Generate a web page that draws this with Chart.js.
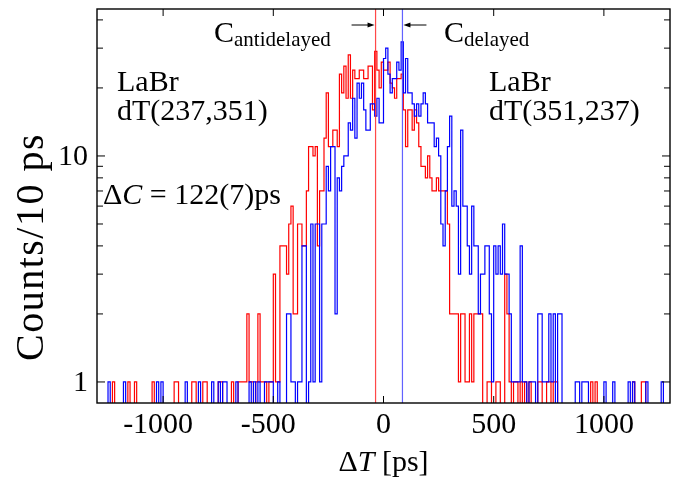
<!DOCTYPE html>
<html>
<head>
<meta charset="utf-8">
<script src="https://cdn.jsdelivr.net/npm/chart.js@4.4.0/dist/chart.umd.min.js"></script>
<style>
  html, body { margin: 0; padding: 0; background: #fff; }
</style>
</head>
<body>
<canvas id="timing" width="691" height="479"></canvas>
<script>
// Time-difference spectra, 10 ps bins from -1300 ps to +1300 ps
const BIN_START = -1300;
const BIN_WIDTH = 10;

// LaBr dT(237,351): counts per bin (20 bins per row)
const antidelayedCounts = [
  0,0,0,0,0,0,0,1,0,0, 0,0,0,0,1,0,0,1,0,0,
  0,0,0,0,0,1,0,0,0,0, 0,0,0,0,0,1,1,0,0,0,
  0,0,0,1,1,0,0,0,1,1, 0,0,0,0,0,1,1,0,0,0,
  0,1,0,0,1,1,1,1,2,1, 1,0,1,2,1,1,1,0,1,1,
  3,1,1,4,4,4,3,5,6,2, 2,5,5,4,4,7,11,11,10,11,
  4,7,7,12,19,11,11,13,13,11, 23,19,25,18,28,18,24,22,22,24,
  24,22,22,25,25,16,29,24,20,26, 24,24,26,21,20,18,22,22,23,16,
  11,16,16,13,16,14,11,9,9,8, 10,8,7,7,8,7,7,7,7,5,
  2,2,2,2,1,2,2,1,1,2, 1,2,2,2,2,0,0,1,1,0,
  0,1,1,0,0,3,2,1,0,1, 1,0,1,0,1,0,1,0,0,0,
  1,1,0,0,1,1,0,1,1,0, 0,0,0,0,0,0,0,0,0,0,
  0,0,0,0,1,0,1,0,0,0, 0,0,0,0,0,0,0,0,0,0,
  0,0,0,1,0,0,0,1,1,0, 0,0,0,0,0,0,0,0,0,0
];

// LaBr dT(351,237): counts per bin
const delayedCounts = [
  0,0,0,0,0,1,0,0,0,0, 0,0,1,0,0,0,0,0,0,0,
  0,0,0,0,0,0,0,1,0,1, 0,0,0,0,0,0,0,0,0,0,
  1,0,0,0,0,0,1,0,0,0, 0,0,1,0,0,1,0,1,1,0,
  0,0,0,1,0,0,0,0,0,1, 0,1,0,1,0,0,1,1,1,1,
  0,0,1,0,0,0,2,2,1,1, 0,1,1,4,4,0,1,5,1,5,
  5,1,5,5,9,7,11,11,2,8, 7,9,10,10,14,13,18,12,21,18,
  21,16,13,13,17,17,15,18,14,14, 27,30,23,19,22,22,26,24,32,19,
  27,19,19,17,15,17,15,17,19,17, 14,14,14,11,12,10,5,4,7,11,
  15,6,7,6,3,13,6,6,4,3, 6,4,4,2,3,3,4,4,2,1,
  4,3,4,3,5,3,3,2,1,1, 1,1,4,1,1,0,1,1,1,0,
  2,2,1,1,1,2,1,2,0,2, 2,0,0,0,0,0,0,1,1,0,
  1,1,1,0,0,0,0,0,0,0, 1,0,0,0,1,0,0,0,0,0,
  0,1,0,1,0,0,0,0,0,1, 0,0,0,0,0,0,1,0,0,0
];

// centroids of the two distributions (ps)
const centroidAnti = -36;
const centroidDel = 86;

const xTickValues = [-1000, -500, 0, 500, 1000];
const yTickValues = [1, 2, 3, 4, 5, 6, 7, 8, 9, 10, 20, 30, 40];
const yTickLabelled = [1, 10];

// empty bins sit below the log axis so the steps fall off the frame
const EMPTY_LEVEL = 0.5;

function toPoints(counts) {
  return counts.map((c, i) => ({
    x: BIN_START + BIN_WIDTH * (i + 0.5),
    y: c > 0 ? c : EMPTY_LEVEL
  }));
}

const SERIF = '"Liberation Serif", "Times New Roman", serif';

// draw a run of text pieces with different fonts starting at x
function drawRuns(ctx, x, y, runs) {
  let cx = x;
  runs.forEach(r => {
    ctx.font = r.font;
    ctx.fillText(r.text, cx, y + (r.dy || 0));
    cx += ctx.measureText(r.text).width;
  });
  return cx;
}

function runsWidth(ctx, runs) {
  let w = 0;
  runs.forEach(r => { ctx.font = r.font; w += ctx.measureText(r.text).width; });
  return w;
}

function arrow(ctx, x0, x1, y) {
  const dir = Math.sign(x1 - x0);
  ctx.beginPath();
  ctx.moveTo(x0, y);
  ctx.lineTo(x1 - dir * 5, y);
  ctx.stroke();
  ctx.beginPath();
  ctx.moveTo(x1, y);
  ctx.lineTo(x1 - dir * 7, y - 2.5);
  ctx.lineTo(x1 - dir * 7, y + 2.5);
  ctx.closePath();
  ctx.fill();
}

const framePlugin = {
  id: 'framePlugin',
  afterDatasetsDraw(chart) {
    const { ctx, chartArea: a, scales: { x, y } } = chart;
    ctx.save();

    // centroid markers
    ctx.lineWidth = 1.2;
    ctx.strokeStyle = 'rgba(255,40,40,0.85)';
    let px = x.getPixelForValue(centroidAnti);
    ctx.beginPath(); ctx.moveTo(px, a.top); ctx.lineTo(px, a.bottom); ctx.stroke();
    ctx.strokeStyle = 'rgba(70,70,255,0.85)';
    px = x.getPixelForValue(centroidDel);
    ctx.beginPath(); ctx.moveTo(px, a.top); ctx.lineTo(px, a.bottom); ctx.stroke();

    // frame
    ctx.strokeStyle = '#000';
    ctx.fillStyle = '#000';
    ctx.lineWidth = 1.4;
    ctx.strokeRect(a.left, a.top, a.right - a.left, a.bottom - a.top);

    // inward ticks on all four sides
    ctx.lineWidth = 1;
    ctx.beginPath();
    xTickValues.forEach(v => {
      const tx = x.getPixelForValue(v);
      ctx.moveTo(tx, a.bottom); ctx.lineTo(tx, a.bottom - 7);
      ctx.moveTo(tx, a.top); ctx.lineTo(tx, a.top + 7);
    });
    yTickValues.forEach(v => {
      const ty = y.getPixelForValue(v);
      const len = yTickLabelled.includes(v) ? 8 : 6;
      ctx.moveTo(a.left, ty); ctx.lineTo(a.left + len, ty);
      ctx.moveTo(a.right, ty); ctx.lineTo(a.right - len, ty);
    });
    ctx.stroke();

    // tick labels
    ctx.font = '30px ' + SERIF;
    ctx.textBaseline = 'alphabetic';
    ctx.textAlign = 'left';
    xTickValues.forEach(v => {
      const digits = String(Math.abs(v));
      const w = ctx.measureText(digits).width;
      const tx = x.getPixelForValue(v) - w / 2;
      ctx.fillText(digits, tx, 433);
      if (v < 0) {
        const mw = ctx.measureText('-').width;
        ctx.fillText('-', tx - mw, 433);
      }
    });
    ctx.textAlign = 'right';
    ctx.textBaseline = 'middle';
    yTickLabelled.forEach(v => {
      ctx.fillText(String(v), a.left - 9, y.getPixelForValue(v) + 1);
    });

    // axis titles
    ctx.textAlign = 'left';
    ctx.textBaseline = 'alphabetic';
    const f30 = '30px ' + SERIF;
    const i30 = 'italic 30px ' + SERIF;
    const xTitle = [
      { text: '\u0394', font: f30 },
      { text: 'T', font: i30 },
      { text: ' [ps]', font: f30 }
    ];
    drawRuns(ctx, x.getPixelForValue(0) - runsWidth(ctx, xTitle) / 2, 471, xTitle);

    ctx.save();
    ctx.translate(43, 247);
    ctx.rotate(-Math.PI / 2);
    ctx.font = '40px ' + SERIF;
    ctx.letterSpacing = '1.5px';
    ctx.textAlign = 'center';
    ctx.fillText('Counts/10 ps', 0, 0);
    ctx.restore();

    // centroid labels and arrows
    const f21 = '21px ' + SERIF;
    const xa = x.getPixelForValue(centroidAnti);
    const xd = x.getPixelForValue(centroidDel);
    drawRuns(ctx, 214, 42, [
      { text: 'C', font: f30 },
      { text: 'antidelayed', font: f21, dy: 4 }
    ]);
    drawRuns(ctx, 444, 42, [
      { text: 'C', font: f30 },
      { text: 'delayed', font: f21, dy: 4 }
    ]);
    ctx.lineWidth = 1;
    arrow(ctx, xa - 24, xa - 1, 25);
    arrow(ctx, xd + 24, xd + 1, 25);

    // detector / gate labels
    ctx.font = f30;
    ctx.fillText('LaBr', 117, 91);
    ctx.fillText('dT(237,351)', 117, 120);
    ctx.fillText('LaBr', 489, 91);
    ctx.fillText('dT(351,237)', 489, 120);
    drawRuns(ctx, 103, 204, [
      { text: '\u0394', font: f30 },
      { text: 'C', font: i30 },
      { text: ' = 122(7)ps', font: f30 }
    ]);

    ctx.restore();
  }
};

new Chart(document.getElementById('timing'), {
  type: 'line',
  data: {
    datasets: [
      {
        label: 'dT(237,351)',
        data: toPoints(antidelayedCounts),
        borderColor: '#ff0000',
        borderWidth: 1.2,
        stepped: 'middle',
        pointRadius: 0,
        fill: false,
        order: 2
      },
      {
        label: 'dT(351,237)',
        data: toPoints(delayedCounts),
        borderColor: '#0000ff',
        borderWidth: 1.2,
        stepped: 'middle',
        pointRadius: 0,
        fill: false,
        order: 1
      }
    ]
  },
  options: {
    responsive: false,
    devicePixelRatio: 1,
    animation: false,
    layout: { padding: { top: 9, right: 21, left: 0, bottom: 0 } },
    plugins: { legend: { display: false }, tooltip: { enabled: false } },
    scales: {
      x: {
        type: 'linear',
        min: -1300,
        max: 1300,
        grid: { display: false },
        border: { display: false },
        ticks: { display: false },
        afterFit: s => { s.height = 76; }
      },
      y: {
        type: 'logarithmic',
        min: 0.807,
        max: 44.7,
        grid: { display: false },
        border: { display: false },
        ticks: { display: false },
        afterFit: s => { s.width = 97; }
      }
    }
  },
  plugins: [framePlugin]
});
</script>
</body>
</html>
